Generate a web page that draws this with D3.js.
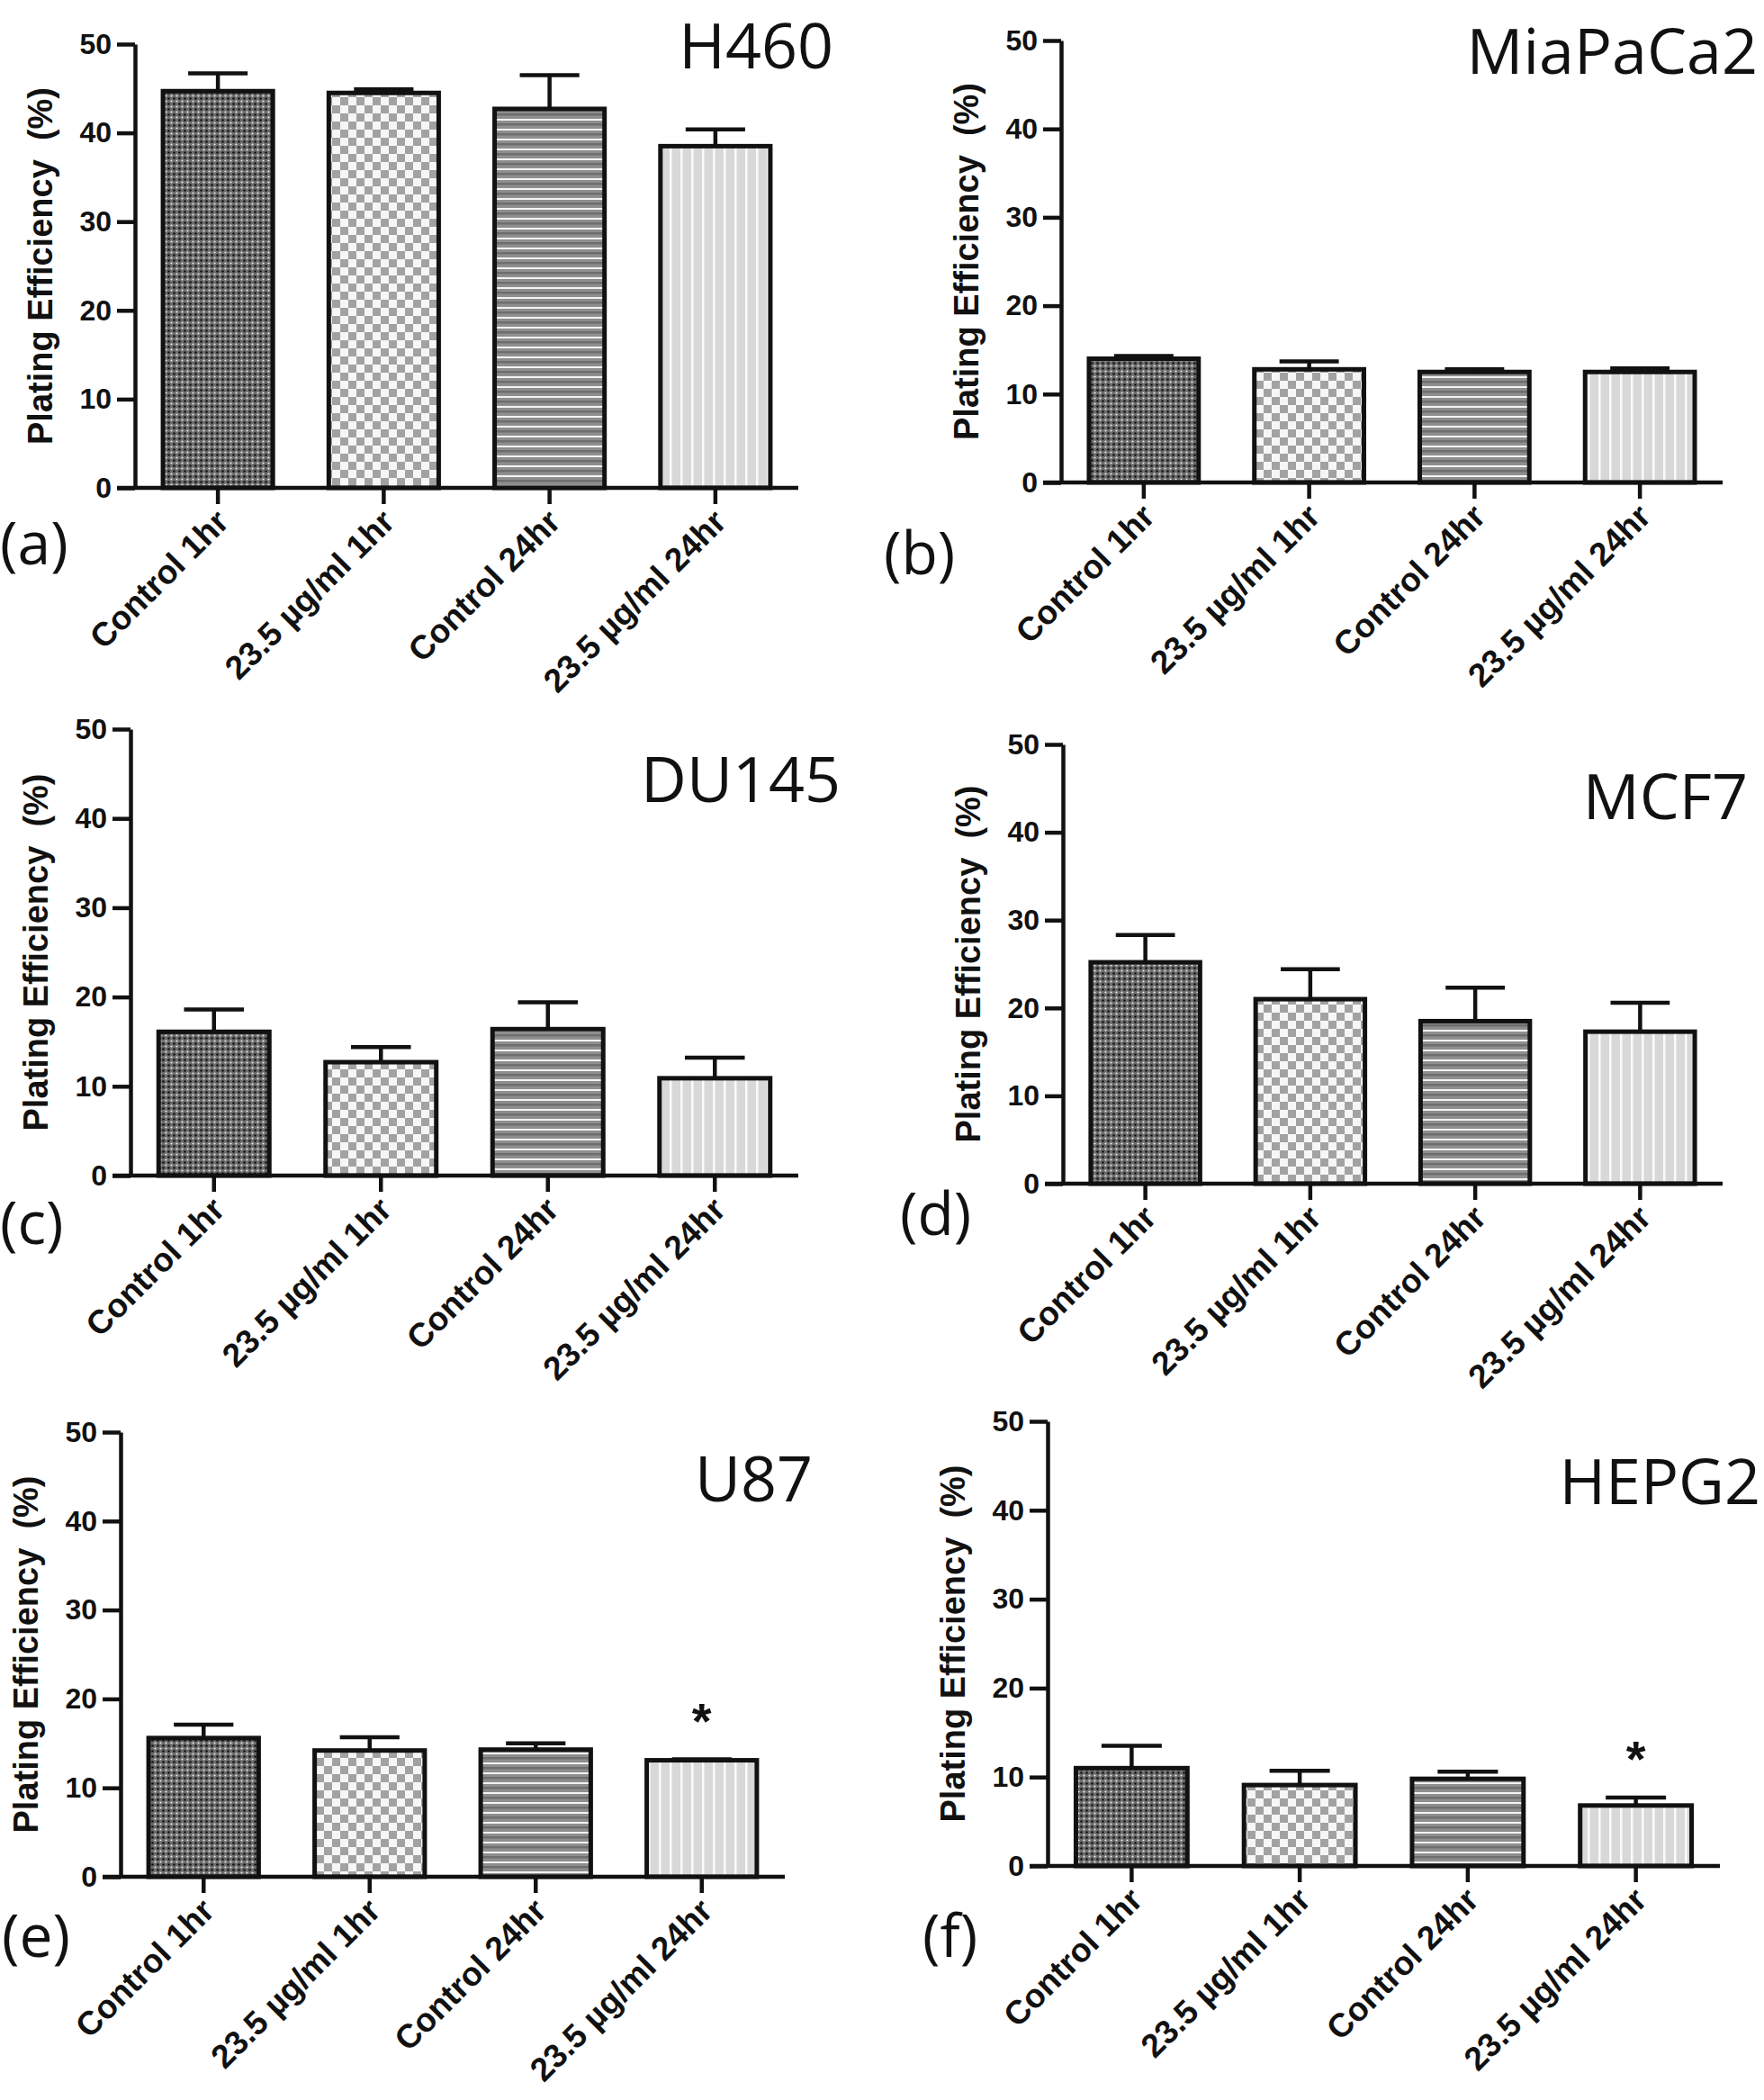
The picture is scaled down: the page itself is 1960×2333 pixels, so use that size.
<!DOCTYPE html>
<html lang="en">
<head>
<meta charset="UTF-8" />
<title>Plating efficiency, six cell lines</title>
<script src="https://d3js.org/d3.v7.min.js"></script>
<style>
    body {
        margin: 0;
        background: #fff;
    }

    svg {
        display: block;
        background: #fff;
    }

    .axis path,
    .axis line,
    .base-line {
        stroke: #111;
        stroke-width: 4.5px;
        fill: none;
    }

    .axis text {
        font-family: "Liberation Sans", Arial, sans-serif;
        font-weight: bold;
        fill: #111;
    }

    .title {
        font-family: "Open Sans", sans-serif;
        font-size: 70px;
        fill: #111;
    }

    .letter {
        font-family: "Open Sans", sans-serif;
        font-size: 66px;
        fill: #111;
    }

    .ylabel {
        font-family: "Liberation Sans", Arial, sans-serif;
        font-weight: bold;
        font-size: 38px;
        fill: #111;
    }

    .star {
        font-family: "Liberation Sans", Arial, sans-serif;
        font-weight: bold;
        font-size: 56px;
        fill: #111;
    }
</style>
</head>
<body>
<svg id="chart" width="1960" height="2333"></svg>
<script>
    // data
    const categories = ["Control 1hr", "23.5 µg/ml 1hr", "Control 24hr", "23.5 µg/ml 24hr"];
    const cellLines = ["H460", "MiaPaCa2", "DU145", "MCF7", "U87", "HEPG2"];
    const panelLetters = ["(a)", "(b)", "(c)", "(d)", "(e)", "(f)"];
    const yTicks = [0, 10, 20, 30, 40, 50];
    const yLabel = "Plating Efficiency\u00a0 (%)";

    const h460Mean = [44.7, 44.5, 42.7, 38.5];
    const h460Sem = [2.0, 0.4, 3.8, 1.9];
    const miaMean = [14.0, 12.8, 12.5, 12.5];
    const miaSem = [0.3, 0.9, 0.3, 0.4];
    const du145Mean = [16.1, 12.7, 16.4, 10.9];
    const du145Sem = [2.5, 1.7, 3.0, 2.3];
    const mcf7Mean = [25.2, 21.0, 18.5, 17.3];
    const mcf7Sem = [3.1, 3.4, 3.8, 3.3];
    const u87Mean = [15.6, 14.2, 14.3, 13.1];
    const u87Sem = [1.5, 1.5, 0.7, 0.1];
    const hepg2Mean = [11.0, 9.1, 9.8, 6.8];
    const hepg2Sem = [2.5, 1.6, 0.8, 0.9];

    const noStar = [false, false, false, false];
    const lastStar = [false, false, false, true];

    const means = [h460Mean, miaMean, du145Mean, mcf7Mean, u87Mean, hepg2Mean];
    const sems = [h460Sem, miaSem, du145Sem, mcf7Sem, u87Sem, hepg2Sem];
    const stars = [noStar, noStar, noStar, noStar, lastStar, lastStar];

    // where each panel sits on the page
    const layout = [
        { x0: 150, x1: 887, yTop: 49, yBot: 542, titleX: 926, titleY: 76, letterX: 0, letterY: 627 },
        { x0: 1179, x1: 1914, yTop: 45, yBot: 536, titleX: 1953, titleY: 82, letterX: 982, letterY: 638 },
        { x0: 145, x1: 887, yTop: 810, yBot: 1306, titleX: 934, titleY: 891, letterX: 0, letterY: 1382 },
        { x0: 1181, x1: 1914, yTop: 827, yBot: 1315, titleX: 1942, titleY: 910, letterX: 1000, letterY: 1372 },
        { x0: 134, x1: 872, yTop: 1591, yBot: 2085, titleX: 903, titleY: 1668, letterX: 2, letterY: 2174 },
        { x0: 1164, x1: 1911, yTop: 1579, yBot: 2073, titleX: 1956, titleY: 1671, letterX: 1025, letterY: 2174 }
    ];

    const svg = d3.select("#chart");
    const defs = svg.append("defs");

    // fill patterns, one per treatment
    const pDots = defs.append("pattern").attr("id", "fill0")
        .attr("patternUnits", "userSpaceOnUse").attr("width", 6).attr("height", 6);
    pDots.append("rect").attr("width", 6).attr("height", 6).attr("fill", "#6c6c6c");
    pDots.append("circle").attr("cx", 1.5).attr("cy", 1.5).attr("r", 1.3).attr("fill", "#111");
    pDots.append("circle").attr("cx", 4.5).attr("cy", 4.5).attr("r", 1.1).attr("fill", "#e8e8e8");

    const pCheck = defs.append("pattern").attr("id", "fill1")
        .attr("patternUnits", "userSpaceOnUse").attr("width", 18).attr("height", 18);
    pCheck.append("rect").attr("width", 18).attr("height", 18).attr("fill", "#f6f6f6");
    pCheck.append("rect").attr("width", 9).attr("height", 9).attr("fill", "#a2a2a2");
    pCheck.append("rect").attr("x", 9).attr("y", 9).attr("width", 9).attr("height", 9).attr("fill", "#a2a2a2");

    const pHoriz = defs.append("pattern").attr("id", "fill2")
        .attr("patternUnits", "userSpaceOnUse").attr("width", 10).attr("height", 11);
    pHoriz.append("rect").attr("width", 10).attr("height", 11).attr("fill", "#8e8e8e");
    pHoriz.append("rect").attr("width", 10).attr("height", 2).attr("fill", "#f3f3f3");
    pHoriz.append("rect").attr("y", 5).attr("width", 10).attr("height", 2.5).attr("fill", "#6e6e6e");

    const pVert = defs.append("pattern").attr("id", "fill3")
        .attr("patternUnits", "userSpaceOnUse").attr("width", 12).attr("height", 10);
    pVert.append("rect").attr("width", 12).attr("height", 10).attr("fill", "#d8d8d8");
    pVert.append("rect").attr("width", 2.5).attr("height", 10).attr("fill", "#fbfbfb");

    function drawPanel(i) {
        const box = layout[i];
        const mean = means[i];
        const sem = sems[i];
        const g = svg.append("g").attr("class", "panel");

        const x = d3.scaleBand()
            .domain(categories)
            .range([box.x0, box.x1])
            .paddingInner(0.31)
            .paddingOuter(0.155);

        const y = d3.scaleLinear()
            .domain([0, 50])
            .range([box.yBot, box.yTop]);

        const capW = x.bandwidth() * 0.52;
        const rows = mean.map((m, k) => ({ cat: categories[k], m, s: sem[k], star: stars[i][k], k }));

        // bars
        g.selectAll("rect.bar")
            .data(rows)
            .join("rect")
            .attr("class", "bar")
            .attr("x", d => x(d.cat) + 2.5)
            .attr("width", x.bandwidth() - 5)
            .attr("y", d => y(d.m))
            .attr("height", d => y(0) - y(d.m))
            .attr("fill", d => `url(#fill${d.k})`)
            .attr("stroke", "#111")
            .attr("stroke-width", 5);

        // upper error bars
        const err = g.selectAll("g.err")
            .data(rows)
            .join("g")
            .attr("class", "err")
            .attr("transform", d => `translate(${x(d.cat) + x.bandwidth() / 2},0)`);

        err.append("line")
            .attr("x1", 0).attr("x2", 0)
            .attr("y1", d => y(d.m))
            .attr("y2", d => y(d.m + d.s))
            .attr("stroke", "#111")
            .attr("stroke-width", 4.5);

        err.append("line")
            .attr("x1", -capW / 2).attr("x2", capW / 2)
            .attr("y1", d => y(d.m + d.s))
            .attr("y2", d => y(d.m + d.s))
            .attr("stroke", "#111")
            .attr("stroke-width", 4.5);

        // significance stars
        err.filter(d => d.star)
            .append("text")
            .attr("class", "star")
            .attr("text-anchor", "middle")
            .attr("y", d => y(d.m + d.s) - 24)
            .text("*");

        // y axis
        const yAxis = g.append("g")
            .attr("class", "axis")
            .attr("transform", `translate(${box.x0},0)`)
            .call(d3.axisLeft(y).tickValues(yTicks).tickSize(20).tickPadding(6).tickSizeOuter(0));
        yAxis.selectAll("text").style("font-size", "32px");

        // x axis
        const xAxis = g.append("g")
            .attr("class", "axis")
            .attr("transform", `translate(0,${box.yBot})`)
            .call(d3.axisBottom(x).tickSize(18).tickSizeOuter(0));
        xAxis.select(".domain").remove();
        xAxis.append("line")
            .attr("class", "base-line")
            .attr("x1", box.x0 - 20)
            .attr("x2", box.x1)
            .attr("y1", 0).attr("y2", 0);
        xAxis.selectAll(".tick text")
            .attr("x", 0)
            .attr("y", 0)
            .attr("dy", 0)
            .attr("text-anchor", "end")
            .attr("transform", "translate(14,40) rotate(-45)")
            .style("font-size", "37px");

        // y label
        g.append("text")
            .attr("class", "ylabel")
            .attr("text-anchor", "middle")
            .attr("transform", `translate(${box.x0 - 92},${(box.yTop + box.yBot) / 2}) rotate(-90)`)
            .text(yLabel);

        g.append("text")
            .attr("class", "title")
            .attr("text-anchor", "end")
            .attr("x", box.titleX)
            .attr("y", box.titleY)
            .text(cellLines[i]);

        g.append("text")
            .attr("class", "letter")
            .attr("x", box.letterX)
            .attr("y", box.letterY)
            .text(panelLetters[i]);
    }

    cellLines.forEach((name, i) => drawPanel(i));
</script>
</body>
</html>
